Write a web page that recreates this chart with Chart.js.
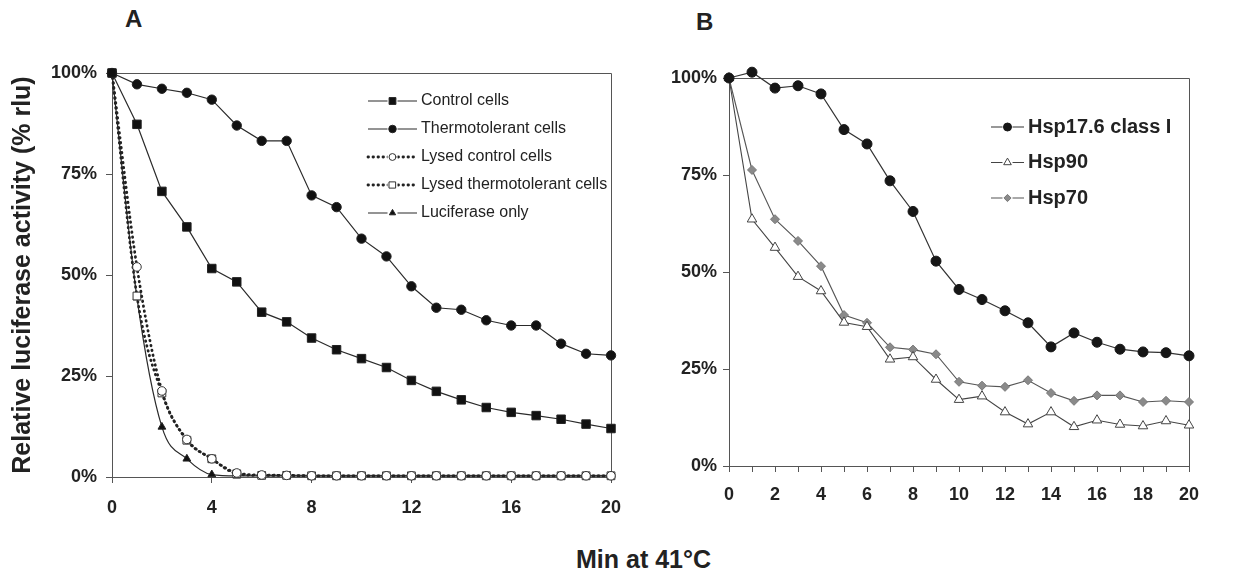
<!DOCTYPE html>
<html>
<head>
<meta charset="utf-8">
<script src="https://cdn.jsdelivr.net/npm/chart.js@4.4.0/dist/chart.umd.min.js"></script>
<style>
  body { margin: 0; background: #fff; width: 1239px; height: 573px; overflow: hidden; position: relative;
         font-family: "Liberation Sans", Arial, sans-serif; }
  .box { position: absolute; top: 0; }
  .lbl { position: absolute; font-weight: bold; color: #222; line-height: 1; white-space: nowrap; }
</style>
</head>
<body>
<div class="lbl" style="left:125px;top:7px;font-size:24px">A</div>
<div class="lbl" style="left:696px;top:10px;font-size:24px">B</div>
<div class="lbl" style="left:576px;top:547px;font-size:25px">Min at 41°C</div>

<div class="box" style="left:0px"><canvas id="chartA" width="640" height="540"></canvas></div>
<div class="box" style="left:640px"><canvas id="chartB" width="599" height="540"></canvas></div>

<script>
/* ===== data ===== */
// minutes at 41°C (both panels)
var minutes = [0, 1, 2, 3, 4, 5, 6, 7, 8, 9, 10, 11, 12, 13, 14, 15, 16, 17, 18, 19, 20];

// panel A, % rlu
var controlCells       = [100, 87.3, 70.7, 61.9, 51.6, 48.3, 40.8, 38.4, 34.4, 31.5, 29.3, 27.1, 23.9, 21.2, 19.1, 17.2, 16.0, 15.2, 14.3, 13.1, 12.0];
var thermoCells        = [100, 97.2, 96.1, 95.1, 93.4, 87.0, 83.2, 83.2, 69.7, 66.8, 59.0, 54.6, 47.2, 41.9, 41.4, 38.8, 37.5, 37.5, 33.0, 30.5, 30.1];
var lysedControl       = [100, 52.0, 21.3, 9.3, 4.5, 1.0, 0.5, 0.4, 0.3, 0.3, 0.3, 0.3, 0.3, 0.3, 0.3, 0.3, 0.3, 0.3, 0.3, 0.3, 0.3];
var lysedThermo        = [100, 44.8, 20.8, 9.1, 4.5, 0.8, 0.4, 0.4, 0.3, 0.3, 0.3, 0.3, 0.3, 0.3, 0.3, 0.3, 0.3, 0.3, 0.3, 0.3, 0.3];
var luciferaseOnly     = [100, 44.4, 12.4, 4.5, 0.6, 0.3, 0.3, 0.3, 0.3, 0.3, 0.3, 0.3, 0.3, 0.3, 0.3, 0.3, 0.3, 0.3, 0.3, 0.3, 0.3];

// panel B, % rlu
var hsp176 = [100, 101.5, 97.4, 98.0, 95.9, 86.7, 83.0, 73.5, 65.6, 52.8, 45.5, 42.9, 40.0, 36.9, 30.7, 34.3, 31.9, 30.1, 29.4, 29.2, 28.4];
var hsp90  = [100, 63.6, 56.3, 48.8, 45.1, 37.0, 35.9, 27.5, 28.1, 22.3, 17.1, 18.0, 13.9, 10.8, 13.9, 10.1, 11.8, 10.7, 10.3, 11.6, 10.5];
var hsp70  = [100, 76.3, 63.6, 58.0, 51.5, 38.9, 36.9, 30.6, 30.0, 28.8, 21.7, 20.7, 20.4, 22.1, 18.8, 16.8, 18.2, 18.2, 16.5, 16.8, 16.5];

var yTicks = [0, 25, 50, 75, 100];

/* ===== helpers ===== */
function pts(values) {
    return minutes.map(function (m, i) { return { x: m, y: values[i] }; });
}

// box around the plot area (top + right edges)
var framePlugin = {
    id: 'frame',
    beforeDatasetsDraw: function (chart) {
        var a = chart.chartArea, ctx = chart.ctx;
        ctx.save();
        ctx.strokeStyle = '#555';
        ctx.lineWidth = 1;
        ctx.beginPath();
        ctx.moveTo(a.left, a.top + 0.5);
        ctx.lineTo(a.right + 0.5, a.top + 0.5);
        ctx.lineTo(a.right + 0.5, a.bottom);
        ctx.stroke();
        ctx.restore();
    }
};

// Excel-like legend: line sample with marker in the middle, then the label
var lineLegend = {
    id: 'lineLegend',
    afterDraw: function (chart, args, o) {
        var ctx = chart.ctx;
        chart.data.datasets.forEach(function (ds, i) {
            var y = o.y + i * o.step;
            ctx.save();
            ctx.strokeStyle = ds.borderColor;
            ctx.lineWidth = ds.borderWidth;
            ctx.lineCap = ds.borderCapStyle || 'butt';
            ctx.setLineDash(ds.borderDash || []);
            ctx.beginPath();
            ctx.moveTo(o.x0, y);
            ctx.lineTo(o.x1, y);
            ctx.stroke();
            ctx.setLineDash([]);
            var mx = (o.x0 + o.x1) / 2;
            ctx.fillStyle = '#fff';
            ctx.fillRect(mx - 5, y - 5, 10, 10);
            ctx.fillStyle = ds.pointBackgroundColor;
            ctx.strokeStyle = ds.pointBorderColor;
            ctx.lineWidth = ds.pointBorderWidth;
            Chart.helpers.drawPoint(ctx, { pointStyle: ds.pointStyle, radius: ds.pointRadius * 0.8, rotation: 0, borderWidth: ds.pointBorderWidth }, mx, y);
            ctx.fillStyle = '#222';
            ctx.font = o.font;
            ctx.textBaseline = 'middle';
            ctx.fillText(ds.label, o.textX, y);
            ctx.restore();
        });
    }
};

function solid(label, values, style, radius, fill, smooth) {
    return {
        label: label, data: pts(values),
        borderColor: '#2a2a2a', borderWidth: 1.2, tension: 0,
        cubicInterpolationMode: smooth ? 'monotone' : 'default',
        pointStyle: style, pointRadius: radius,
        pointBackgroundColor: fill, pointBorderColor: '#222', pointBorderWidth: 1,
        clip: false
    };
}
function dotted(label, values, style, radius) {
    return {
        label: label, data: pts(values),
        borderColor: '#222', borderWidth: 2.8, borderDash: [0.5, 4.5], borderCapStyle: 'round',
        cubicInterpolationMode: 'monotone',
        pointStyle: style, pointRadius: radius,
        pointBackgroundColor: '#fff', pointBorderColor: '#333', pointBorderWidth: 1,
        clip: false
    };
}

function axes(opt) {
    var tickFont = { family: 'Liberation Sans', weight: 'bold', size: 18 };
    return {
        x: {
            type: 'linear', min: 0, max: 20,
            afterFit: function (s) { s.height = opt.xHeight; },
            border: { display: true, color: '#555', width: 1 },
            grid: { display: true, drawOnChartArea: false, drawTicks: true, tickLength: 6, color: '#555' },
            ticks: {
                stepSize: opt.xStep, autoSkip: false, maxRotation: 0, padding: opt.xPad,
                color: '#222', font: tickFont,
                callback: function (v) { return v % opt.xLabelEvery === 0 ? v : ''; }
            }
        },
        y: {
            min: 0, max: 100,
            afterFit: function (s) { s.width = opt.yWidth; },
            afterBuildTicks: function (s) { s.ticks = yTicks.map(function (v) { return { value: v }; }); },
            border: { display: true, color: '#555', width: 1 },
            grid: { display: true, drawOnChartArea: false, drawTicks: true, tickLength: 6, color: '#555' },
            ticks: { padding: opt.yPad, color: '#222', font: tickFont, callback: function (v) { return v + '%'; } },
            title: opt.yTitle ? {
                display: true, text: opt.yTitle, color: '#222',
                font: { family: 'Liberation Sans', weight: 'bold', size: 25 },
                padding: { top: 8, bottom: 0 }
            } : { display: false }
        }
    };
}

/* ===== panel A ===== */
new Chart(document.getElementById('chartA'), {
    type: 'line',
    data: {
        datasets: [
            solid('Control cells', controlCells, 'rect', 6, '#111', false),
            solid('Thermotolerant cells', thermoCells, 'circle', 4.7, '#111', false),
            dotted('Lysed control cells', lysedControl, 'circle', 4.3),
            dotted('Lysed thermotolerant cells', lysedThermo, 'rect', 5.5),
            solid('Luciferase only', luciferaseOnly, 'triangle', 4.5, '#111', true)
        ]
    },
    options: {
        responsive: false, animation: false,
        layout: { padding: { top: 73, right: 29, left: 0, bottom: 0 } },
        plugins: {
            legend: { display: false }, tooltip: { enabled: false },
            lineLegend: { x0: 368, x1: 417, textX: 421, y: 101, step: 28, font: '16px "Liberation Sans"' }
        },
        scales: axes({ xHeight: 63, yWidth: 112, xStep: 4, xLabelEvery: 4, xPad: 14, yPad: 9,
                       yTitle: 'Relative luciferase activity (% rlu)' })
    },
    plugins: [framePlugin, lineLegend]
});

/* ===== panel B ===== */
new Chart(document.getElementById('chartB'), {
    type: 'line',
    data: {
        datasets: [
            {
                label: 'Hsp17.6 class I', data: pts(hsp176),
                borderColor: '#333', borderWidth: 1.2, tension: 0,
                pointStyle: 'circle', pointRadius: 5,
                pointBackgroundColor: '#161616', pointBorderColor: '#161616', pointBorderWidth: 1, clip: false
            },
            {
                label: 'Hsp90', data: pts(hsp90),
                borderColor: '#444', borderWidth: 1.1, tension: 0,
                pointStyle: 'triangle', pointRadius: 5.5,
                pointBackgroundColor: '#fff', pointBorderColor: '#444', pointBorderWidth: 1, clip: false
            },
            {
                label: 'Hsp70', data: pts(hsp70),
                borderColor: '#555', borderWidth: 1.1, tension: 0,
                pointStyle: 'rectRot', pointRadius: 4.5,
                pointBackgroundColor: '#8a8a8a', pointBorderColor: '#777', pointBorderWidth: 1, clip: false
            }
        ]
    },
    options: {
        responsive: false, animation: false,
        layout: { padding: { top: 78, right: 50, left: 0, bottom: 0 } },
        plugins: {
            legend: { display: false }, tooltip: { enabled: false },
            lineLegend: { x0: 351, x1: 384, textX: 388, y: 127, step: 35.5, font: 'bold 20px "Liberation Sans"' }
        },
        scales: axes({ xHeight: 74, yWidth: 89, xStep: 1, xLabelEvery: 2, xPad: 12, yPad: 6 })
    },
    plugins: [framePlugin, lineLegend]
});
</script>
</body>
</html>
